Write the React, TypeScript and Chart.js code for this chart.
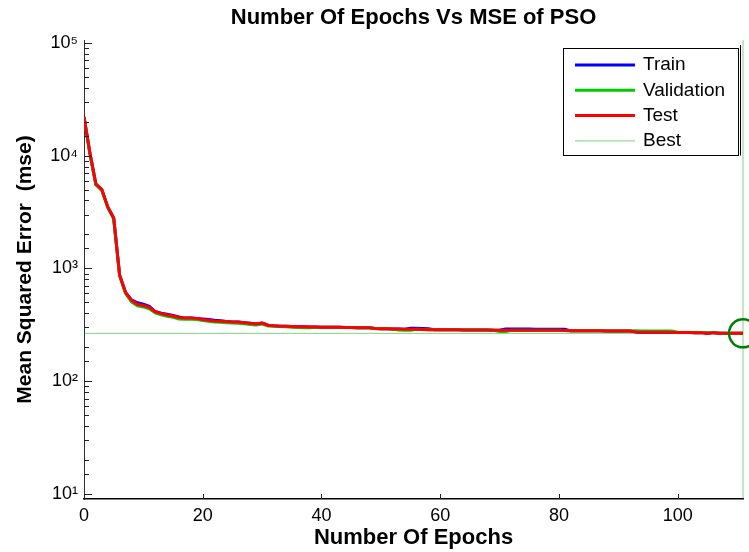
import React, { useEffect, useRef } from "react";
import { Chart, registerables } from "chart.js";

Chart.register(...registerables);

const epochs = [
  0, 1, 2, 3, 4, 5, 6, 7, 8, 9, 10, 11, 12, 13, 14, 15, 16, 17, 18, 19,
  20, 21, 22, 23, 24, 25, 26, 27, 28, 29, 30, 31, 32, 33, 34, 35, 36, 37, 38, 39,
  40, 41, 42, 43, 44, 45, 46, 47, 48, 49, 50, 51, 52, 53, 54, 55, 56, 57, 58, 59,
  60, 61, 62, 63, 64, 65, 66, 67, 68, 69, 70, 71, 72, 73, 74, 75, 76, 77, 78, 79,
  80, 81, 82, 83, 84, 85, 86, 87, 88, 89, 90, 91, 92, 93, 94, 95, 96, 97, 98, 99,
  100, 101, 102, 103, 104, 105, 106, 107, 108, 109, 110, 111,
];

const testMse = [
  22000, 10500, 5600, 5000, 3500, 2800, 870, 610, 520, 480,
  468, 450, 412, 398, 386, 378, 366, 362, 362, 360,
  352, 347, 342, 340, 338, 335, 334, 330, 326, 321,
  327, 313, 309, 307, 306, 305, 304, 303, 302, 302,
  301, 301, 300, 300, 299, 299, 298, 298, 297, 293,
  291, 291, 290, 290, 289, 289, 288, 287, 286, 286,
  285, 285, 285, 285, 284, 284, 284, 284, 284, 283,
  283, 283, 283, 283, 283, 283, 282, 282, 282, 282,
  282, 281, 279, 279, 279, 279, 279, 279, 278, 278,
  278, 278, 278, 272, 271, 271, 271, 271, 271, 270,
  270, 270, 270, 269, 269, 264, 269, 266, 266, 265,
  265, 265,
];

const trainMse = [
  22000, 10500, 5600, 5000, 3500, 2800, 870, 610, 525, 495,
  480, 460, 414, 400, 391, 383, 370, 362, 362, 360,
  356, 351, 346, 343, 338, 335, 334, 330, 326, 321,
  327, 313, 309, 307, 306, 305, 304, 303, 302, 302,
  301, 301, 300, 300, 299, 299, 298, 298, 297, 293,
  291, 291, 290, 290, 289, 294, 294, 293, 292, 286,
  285, 285, 285, 285, 284, 284, 284, 284, 284, 283,
  283, 290, 290, 290, 290, 290, 289, 289, 289, 289,
  289, 288, 279, 279, 279, 279, 279, 279, 278, 278,
  278, 278, 278, 272, 271, 271, 271, 271, 271, 270,
  270, 270, 270, 269, 269, 264, 269, 266, 266, 265,
  265, 265,
];

const validationMse = [
  22000, 10400, 5500, 4900, 3450, 2750, 860, 600, 505, 465,
  455, 438, 402, 388, 376, 368, 356, 353, 353, 351,
  344, 339, 334, 332, 330, 327, 326, 322, 318, 314,
  320, 308, 306, 305, 303, 300, 299, 298, 298, 300,
  301, 301, 300, 300, 299, 299, 298, 298, 297, 293,
  291, 291, 290, 284, 283, 283, 288, 287, 286, 286,
  285, 285, 285, 285, 284, 284, 284, 284, 284, 283,
  276, 276, 283, 283, 283, 283, 282, 282, 282, 282,
  282, 281, 279, 279, 279, 279, 279, 279, 278, 278,
  278, 278, 278, 279, 278, 278, 278, 278, 278, 278,
  271, 270, 270, 269, 270, 270, 269, 266, 266, 265,
  265, 265,
];

const bestEpoch = 111;
const bestMse = 265;
const yMin = 9;
const yMax = 106000;
const xMax = 111;
const xTickStep = 20;

const chartTitle = "Number Of Epochs Vs MSE of PSO";
const xTitle = "Number Of Epochs";
const yTitle = "Mean Squared Error  (mse)";
const legendLabels = ["Train", "Validation", "Test", "Best"];

const FONT = "Arial, 'Liberation Sans', Helvetica, sans-serif";
const SUP: Record<string, string> = {
  "0": "\u2070", "1": "\u00b9", "2": "\u00b2", "3": "\u00b3", "4": "\u2074",
  "5": "\u2075", "6": "\u2076", "7": "\u2077", "8": "\u2078", "9": "\u2079", "-": "\u207b",
};

function isPow10(v: number) {
  const l = Math.log10(v);
  return Math.abs(l - Math.round(l)) < 1e-9;
}

const tickMarks = {
  id: "tickMarks",
  afterDraw(chart: any) {
    const { ctx, chartArea, scales } = chart;
    const xs = scales.x;
    const ys = scales.y;
    ctx.save();
    ctx.strokeStyle = "#222";
    ctx.lineWidth = 1;
    ctx.beginPath();
    ys.ticks.forEach((t: any) => {
      if (t.value < 10 - 1e-6 || t.value > 100000 + 1e-6) return;
      const p = Math.round(ys.getPixelForValue(t.value)) + 0.5;
      const len = isPow10(t.value) ? 8 : 5;
      ctx.moveTo(chartArea.left, p);
      ctx.lineTo(chartArea.left + len, p);
    });
    xs.ticks.forEach((t: any) => {
      const p = Math.round(xs.getPixelForValue(t.value)) + 0.5;
      ctx.moveTo(p, chartArea.bottom);
      ctx.lineTo(p, chartArea.bottom - 5);
    });
    ctx.stroke();
    ctx.restore();
  },
};

const legendBox = {
  id: "legendBox",
  afterDraw(chart: any) {
    const { ctx, chartArea } = chart;
    const items = chart.data.datasets.filter((d: any) => legendLabels.includes(d.label));
    const right = chartArea.right - 5;
    const width = 175;
    const left = right - width;
    const top = chartArea.top + 8;
    const height = 107;
    ctx.save();
    ctx.fillStyle = "#fff";
    ctx.fillRect(left, top, width, height);
    ctx.strokeStyle = "#000";
    ctx.lineWidth = 1;
    ctx.strokeRect(Math.round(left) + 0.5, Math.round(top) + 0.5, width, height);
    ctx.beginPath();
    ctx.moveTo(Math.round(right) + 2.5, Math.round(top) - 3);
    ctx.lineTo(Math.round(right) + 2.5, Math.round(top + height) + 0.5);
    ctx.stroke();
    ctx.font = `19px ${FONT}`;
    ctx.textBaseline = "middle";
    ctx.fillStyle = "#000";
    items.forEach((d: any, i: number) => {
      const y = top + 17 + i * 25.3;
      ctx.strokeStyle = d.borderColor;
      ctx.lineWidth = d.label === "Best" ? 1 : 3;
      ctx.beginPath();
      ctx.moveTo(left + 12, y);
      ctx.lineTo(left + 72, y);
      ctx.stroke();
      ctx.fillText(d.label, left + 80, y);
    });
    ctx.restore();
  },
};

export default function App() {
  const ref = useRef<HTMLCanvasElement | null>(null);

  useEffect(() => {
    if (!ref.current) return;
    const pts = (arr: number[]) => epochs.map((e, i) => ({ x: e, y: arr[i] }));
    const bestColor = "rgba(0,170,0,0.5)";
    const chart = new Chart(ref.current, {
      type: "line",
      data: {
        datasets: [
          {
            label: "Train",
            data: pts(trainMse),
            borderColor: "#0000ff",
            borderWidth: 3,
            pointRadius: 0,
            order: 3,
          },
          {
            label: "Validation",
            data: pts(validationMse),
            borderColor: "#00cc00",
            borderWidth: 3,
            pointRadius: 0,
            order: 2,
          },
          {
            label: "Test",
            data: pts(testMse),
            borderColor: "#ff0000",
            borderWidth: 3,
            pointRadius: 0,
            order: 1,
          },
          {
            label: "Best",
            data: [
              { x: 0, y: bestMse },
              { x: bestEpoch, y: bestMse },
            ],
            borderColor: bestColor,
            borderWidth: 1,
            pointRadius: 0,
            order: 4,
          },
          {
            label: "Best epoch",
            data: [
              { x: bestEpoch, y: yMin },
              { x: bestEpoch, y: yMax },
            ],
            borderColor: bestColor,
            borderWidth: 1,
            pointRadius: 0,
            clip: false,
            order: 4,
          },
          {
            label: "Best point",
            data: [{ x: bestEpoch, y: bestMse }],
            showLine: false,
            pointRadius: 14,
            pointStyle: "circle",
            pointBorderColor: "#008000",
            pointBorderWidth: 2.5,
            pointBackgroundColor: "rgba(0,0,0,0)",
            borderColor: "#008000",
            clip: false,
            order: 0,
          } as any,
        ],
      },
      options: {
        animation: false,
        responsive: false,
        devicePixelRatio: 1,
        layout: { autoPadding: false, padding: { left: 0, right: 6, top: 0, bottom: 0 } },
        plugins: {
          legend: { display: false },
          tooltip: { enabled: false },
          title: {
            display: true,
            text: chartTitle,
            fullSize: false,
            color: "#000",
            font: { family: FONT, size: 22, weight: "bold", lineHeight: 1.2 },
            padding: { top: 5, bottom: 8.6 },
          },
        },
        scales: {
          x: {
            type: "linear",
            min: 0,
            max: xMax,
            grid: { display: false, drawTicks: false, tickLength: 0 },
            border: { display: true, color: "#000", width: 1.5 },
            ticks: {
              stepSize: xTickStep,
              includeBounds: false,
              color: "#000",
              font: { family: FONT, size: 18 },
              padding: 6,
              maxRotation: 0,
            },
            title: {
              display: true,
              text: xTitle,
              color: "#000",
              font: { family: FONT, size: 22, weight: "bold", lineHeight: 1.2 },
              padding: { top: 0, bottom: 1 },
            },
            afterFit: (s: any) => {
              s.height = 53;
            },
          },
          y: {
            type: "logarithmic",
            min: yMin,
            max: yMax,
            grid: { display: false, drawTicks: false, tickLength: 0 },
            border: { display: true, color: "#333", width: 1 },
            ticks: {
              autoSkip: false,
              color: "#000",
              font: { family: FONT, size: 18 },
              padding: 6,
              callback: (v: any) => {
                const n = Number(v);
                if (!isPow10(n)) return "";
                const e = String(Math.round(Math.log10(n)));
                return "10" + e.split("").map((c) => SUP[c]).join("");
              },
            },
            title: {
              display: true,
              text: yTitle,
              color: "#000",
              font: { family: FONT, size: 21, weight: "bold", lineHeight: 1.2 },
              padding: { top: 13, bottom: 0 },
            },
            afterFit: (s: any) => {
              s.width = 84;
            },
          },
        },
      },
      plugins: [tickMarks, legendBox],
    } as any);
    return () => chart.destroy();
  }, []);

  return (
    <div style={{ position: "absolute", left: 0, top: 0, width: 749, height: 552, background: "#fff" }}>
      <canvas ref={ref} width={749} height={552} />
    </div>
  );
}
